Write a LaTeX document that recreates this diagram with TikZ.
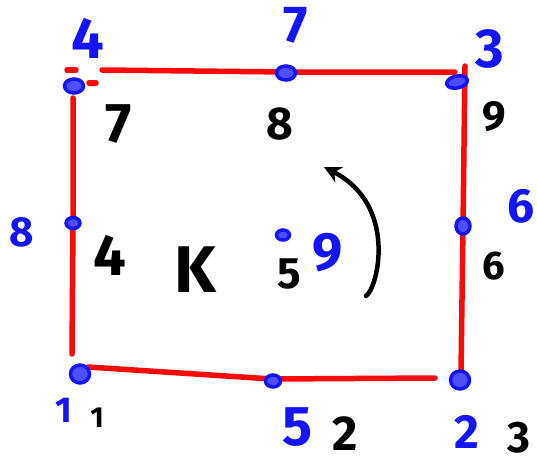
\documentclass[tikz,border=0pt]{standalone}
\usepackage{fontspec}
\setmainfont{Fira Sans}
\usetikzlibrary{arrows.meta,shapes.geometric}
\definecolor{pblue}{RGB}{20,20,245}
\definecolor{pred}{RGB}{250,10,10}
\newcommand{\fsz}[1]{\bfseries\fontsize{#1}{#1}\selectfont}
\tikzset{
  vdot/.style={ellipse,draw=pblue,line width=3.5pt,fill=pblue!75,minimum width=19pt,minimum height=14pt,inner sep=0pt},
  bluelab/.style={text=pblue,inner sep=0pt},
  blacklab/.style={text=black,inner sep=0pt},
  edge/.style={draw=pred,line width=5.5pt,line cap=round}
}
\begin{document}
\begin{tikzpicture}[x=1pt,y=-1pt]
\useasboundingbox (0,0) rectangle (537,463);
% stroke end points of the red sides
\coordinate (t1) at (102,70);
\coordinate (t2) at (455,72);
\coordinate (r1) at (465,66);
\coordinate (r2) at (461,372);
\coordinate (bb1) at (88,367);
\coordinate (bb2) at (435,378);
\coordinate (l1) at (73,98);
\coordinate (l2) at (72,354);
\coordinate (m1a) at (67,70);
\coordinate (m1b) at (76,70);
\coordinate (m2a) at (89,83);
\coordinate (m2b) at (96,83);
% edges
\draw[edge] (t1) -- (287,72) -- (t2);
\draw[edge] (r1) -- (463,226) -- (r2);
\draw[edge] (bb1) -- (272,379) -- (bb2);
\draw[edge] (l1) -- (73,223) -- (l2);
\draw[edge] (m1a) -- (m1b);
\draw[edge] (m2a) -- (m2b);
% vertices
\node[vdot] (v4) at (74,86) {};
\node[vdot] (v7) at (286,73) {};
\node[vdot,rotate=12,minimum width=21pt,minimum height=12pt] (v3) at (457,82) {};
\node[vdot,minimum width=14pt,minimum height=11pt] (v8) at (73,223) {};
\node[vdot,minimum width=14pt,minimum height=16pt] (v6) at (463,226) {};
\node[vdot,minimum height=18pt] (v1) at (80,374) {};
\node[vdot,minimum width=15pt,minimum height=12pt] (v5) at (273,381) {};
\node[vdot,minimum height=18pt] (v2) at (460,380) {};
\node[vdot,minimum width=13pt,minimum height=10pt] (v9) at (283,235) {};
% blue labels
\node[bluelab,font=\fsz{58}] (b4) at (88,38) {4};
\node[bluelab,font=\fsz{52}] (b7) at (296,25) {7};
\node[bluelab,font=\fsz{55}] (b3) at (490,49) {3};
\node[bluelab,font=\fsz{42}] (b8) at (22,232) {8};
\node[bluelab,font=\fsz{48}] (b6) at (521,206) {6};
\node[bluelab,font=\fsz{36}] (b1) at (64,410) {1};
\node[bluelab,font=\fsz{56}] (b5) at (298,427) {5};
\node[bluelab,font=\fsz{48}] (b2) at (467,432) {2};
\node[bluelab,font=\fsz{54}] (b9) at (328,253) {9};
% black labels
\node[blacklab,font=\fsz{56}] (k7) at (119,124) {7};
\node[blacklab,font=\fsz{46}] (k8) at (280,124) {8};
\node[blacklab,font=\fsz{42}] (k9) at (494,117) {9};
\node[blacklab,font=\fsz{58}] (k4) at (110,255) {4};
\node[blacklab,font=\fsz{66}] (kK) at (195,270) {K};
\node[blacklab,font=\fsz{44}] (k5) at (289,274) {5};
\node[blacklab,font=\fsz{40}] (k6) at (494,266) {6};
\node[blacklab,font=\fsz{29}] (k1) at (97,418) {1};
\node[blacklab,font=\fsz{49}] (k2) at (345,434) {2};
\node[blacklab,font=\fsz{44}] (k3) at (519,438) {3};
% rotation arrow
\coordinate (as) at (366,296);
\coordinate (ae) at (324,167);
\draw[line width=4.5pt,line cap=round,-{Stealth[length=17pt,width=17pt]}] (as) .. controls (378,288) and (398,205) .. (ae);
\end{tikzpicture}
\end{document}
